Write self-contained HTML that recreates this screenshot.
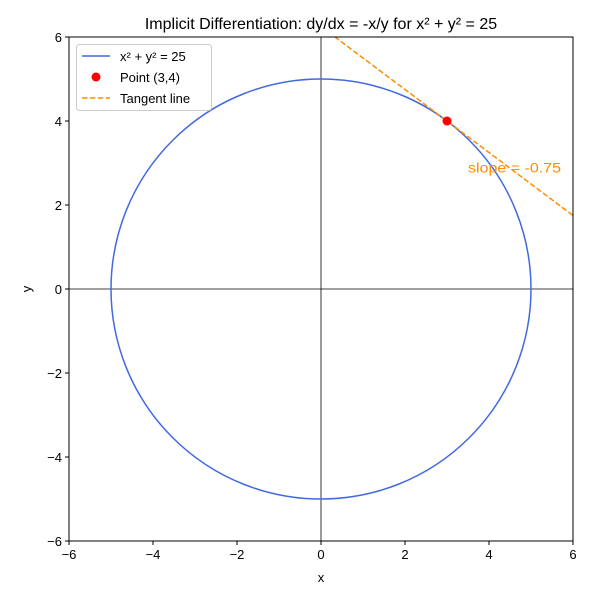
<!DOCTYPE html>
<html><head><meta charset="utf-8"><style>body{margin:0;background:#fff}svg{display:block;font-family:"Liberation Sans","DejaVu Sans",sans-serif}</style></head>
<body>
<svg id="chart" width="600" height="600"></svg>
<script>
const xTicks=[-6,-4,-2,0,2,4,6];
const yTicks=[-6,-4,-2,0,2,4,6];
const tickLabels=["\u22126","\u22124","\u22122","0","2","4","6"];
const radius=[5];
const point=[3,4];
const slope=[-0.75];
const slopeLabelPos=[3.5,2.8];
const NS="http://www.w3.org/2000/svg";
const svg=document.getElementById('chart');
const L=69,R=573,T=37,B=541;
const sx=v=>L+(v+6)/12*(R-L);
const sy=v=>B-(v+6)/12*(B-T);
function mk(t,a,p){const e=document.createElementNS(NS,t);for(const k in a)e.setAttribute(k,a[k]);(p||svg).appendChild(e);return e;}
const defs=mk('defs',{});const cp=mk('clipPath',{id:'clip'},defs);mk('rect',{x:L,y:T,width:R-L,height:B-T},cp);
const title=mk('text',{x:321,y:29,'text-anchor':'middle','font-size':16});title.textContent="Implicit Differentiation: dy/dx = -x/y for x\u00b2 + y\u00b2 = 25";


const g=mk('g',{'clip-path':'url(#clip)'});
const ax1=mk('line',{x1:sx(0),x2:sx(0),y1:T,y2:B,stroke:'#000','stroke-width':0.8},g);


const ax2=mk('line',{x1:L,x2:R,y1:sy(0),y2:sy(0),stroke:'#000','stroke-width':0.8},g);


const r=radius[0];
const circ=mk('ellipse',{cx:sx(0),cy:sy(0),rx:sx(r)-sx(0),ry:sy(0)-sy(r),fill:'none',stroke:'#4169e1','stroke-width':1.5},g);


const m=slope[0],b0=point[1]-m*point[0];
const tl=mk('line',{x1:sx(-6),y1:sy(m*-6+b0),x2:sx(6),y2:sy(m*6+b0),stroke:'#ff8c00','stroke-width':1.5,'stroke-dasharray':'5.5,2.4'},g);


const pt=mk('circle',{cx:sx(point[0]),cy:sy(point[1]),r:4.5,fill:'#ff0000'},g);


const sl=mk('text',{x:sx(slopeLabelPos[0]),y:sy(slopeLabelPos[1])+1,'font-size':14,fill:'#ff8c00',textLength:93,lengthAdjust:'spacingAndGlyphs'});sl.textContent="slope = "+m.toFixed(2);


const fr=mk('rect',{x:L,y:T,width:R-L,height:B-T,fill:'none',stroke:'#000','stroke-width':1});


xTicks.forEach((v,i)=>{mk('line',{x1:sx(v),x2:sx(v),y1:B,y2:B+4,stroke:'#000'});const t=mk('text',{x:sx(v),y:B+18,'text-anchor':'middle','font-size':13});t.textContent=tickLabels[i];

});
yTicks.forEach((v,i)=>{mk('line',{x1:L-4,x2:L,y1:sy(v),y2:sy(v),stroke:'#000'});const t=mk('text',{x:L-7,y:sy(v)+5,'text-anchor':'end','font-size':13});t.textContent=tickLabels[i];

});
const xl=mk('text',{x:321,y:582,'text-anchor':'middle','font-size':13});xl.textContent='x';


const yl=mk('text',{x:31,y:289,'text-anchor':'middle','font-size':13,transform:'rotate(-90 31 289)'});yl.textContent='y';


const lg=mk('g',{});


mk('rect',{x:76.5,y:44.5,width:135,height:66,rx:3,fill:'#fff',stroke:'#ccc'},lg);
mk('line',{x1:82,x2:110,y1:56,y2:56,stroke:'#4169e1','stroke-width':1.5},lg);
mk('circle',{cx:96,cy:77,r:4.5,fill:'#ff0000'},lg);
mk('line',{x1:82,x2:110,y1:98,y2:98,stroke:'#ff8c00','stroke-width':1.5,'stroke-dasharray':'5.5,2.4'},lg);
[["x\u00b2 + y\u00b2 = 25",61],["Point (3,4)",82],["Tangent line",103]].forEach(([s,y])=>{const t=mk('text',{x:120,y:y,'font-size':13},lg);t.textContent=s;

});
</script>
</body></html>
